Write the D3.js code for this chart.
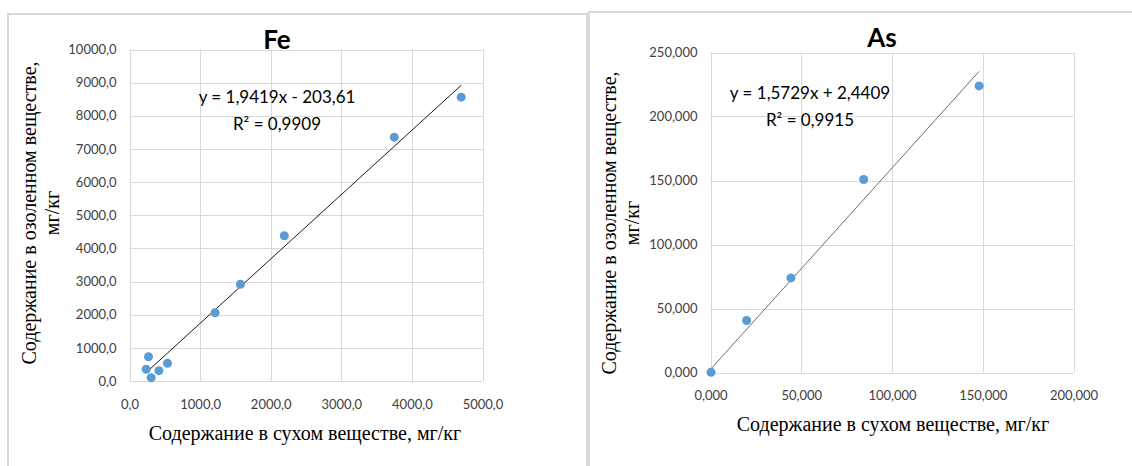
<!DOCTYPE html>
<html>
<head>
<meta charset="utf-8">
<script src="https://cdn.jsdelivr.net/npm/d3@7"></script>
<style>
  body { margin: 0; background: #fff; }
  svg { display: block; }
  .serif { font-family: "Liberation Serif", "Times New Roman", "DejaVu Serif", serif; }
</style>
</head>
<body>
<svg></svg>
<script>
// data

let feDry = [236, 269, 307, 416, 538, 1213, 1571, 2193, 3750, 4698];
let feAsh = [353, 733, 100, 311, 533, 2060, 2915, 4381, 7356, 8562];
let feTrend = [1.9419, -203.61];
let feXTicks = [0, 1000, 2000, 3000, 4000, 5000];
let feYTicks = [0, 1000, 2000, 3000, 4000, 5000, 6000, 7000, 8000, 9000, 10000];

let asDry = [0.3, 19.9, 44.3, 84.4, 148.0];
let asAsh = [0.2, 40.6, 73.9, 150.8, 223.9];
let asTrend = [1.5729, 2.4409];
let asXTicks = [0, 50, 100, 150, 200];
let asYTicks = [0, 50, 100, 150, 200, 250];

let svgWidth = 1132;
let svgHeight = 466;

let svg = d3.select('svg')
	.attr("width", svgWidth)
	.attr("height", svgHeight);

let comma = function(digits) {
	return function(d) { return d.toFixed(digits).replace(".", ","); };
};

function drawChart(opt) {
	let g = svg.append("g");

	// panel border
	g.append("rect")
		.attr("x", opt.panel[0]).attr("y", opt.panel[1])
		.attr("width", opt.panel[2]).attr("height", opt.panel[3])
		.attr("fill", "#fff")
		.attr("stroke", "#d9d9d9")
		.attr("stroke-width", 2);

	let x = d3.scaleLinear().domain(opt.xDomain).range([opt.plot[0], opt.plot[1]]);
	let y = d3.scaleLinear().domain(opt.yDomain).range([opt.plot[3], opt.plot[2]]);

	// gridlines
	g.selectAll(".hgrid").data(opt.yTicks).enter().append("line")
		.attr("x1", opt.plot[0]).attr("x2", opt.plot[1])
		.attr("y1", d => Math.round(y(d)) + 0.5).attr("y2", d => Math.round(y(d)) + 0.5)
		.attr("stroke", "#d9d9d9");
	g.selectAll(".vgrid").data(opt.xTicks).enter().append("line")
		.attr("y1", opt.plot[2]).attr("y2", opt.plot[3])
		.attr("x1", d => Math.round(x(d)) + 0.5).attr("x2", d => Math.round(x(d)) + 0.5)
		.attr("stroke", "#d9d9d9");

	// axes (only labels, no domain)
	let yAxis = g.append("g")
		.attr("transform", "translate(" + opt.plot[0] + ",0)")
		.call(d3.axisLeft(y).tickValues(opt.yTicks).tickFormat(comma(opt.digits)).tickSize(0).tickPadding(opt.yPad));
	let xAxis = g.append("g")
		.attr("transform", "translate(0," + opt.plot[3] + ")")
		.call(d3.axisBottom(x).tickValues(opt.xTicks).tickFormat(comma(opt.digits)).tickSize(0).tickPadding(opt.xPad));
	[xAxis, yAxis].forEach(function(a) {
		a.select(".domain").remove();
		a.selectAll("text")
			.attr("font-family", "Lato, sans-serif")
			.attr("font-size", 13)
			.attr("fill", "#404040");
	});

	// trend line
	let xs = d3.extent(opt.dry);
	g.append("line")
		.attr("x1", x(xs[0])).attr("y1", y(opt.trend[0] * xs[0] + opt.trend[1]))
		.attr("x2", x(xs[1])).attr("y2", y(opt.trend[0] * xs[1] + opt.trend[1]))
		.attr("stroke", opt.lineColor)
		.attr("stroke-width", 1);

	// points
	g.selectAll("circle").data(opt.dry).enter().append("circle")
		.attr("cx", d => x(d))
		.attr("cy", (d, i) => y(opt.ash[i]))
		.attr("r", 4.5)
		.attr("fill", "#5b9bd5");

	// title
	g.append("text")
		.attr("x", opt.titlePos[0]).attr("y", opt.titlePos[1])
		.attr("text-anchor", "middle")
		.attr("font-family", "Lato, sans-serif")
		.attr("font-weight", "bold")
		.attr("font-size", 26)
		.attr("fill", "#000")
		.text(opt.title);

	// equation
	let sign = opt.trend[1] < 0 ? " - " : " + ";
	let eq = g.append("text")
		.attr("text-anchor", "middle")
		.attr("font-family", "Lato, sans-serif")
		.attr("font-size", 17)
		.attr("fill", "#000");
	eq.append("tspan")
		.attr("x", opt.eqPos[0]).attr("y", opt.eqPos[1])
		.text("y = " + comma(4)(opt.trend[0]) + "x" + sign + String(Math.abs(opt.trend[1])).replace(".", ","));
	eq.append("tspan")
		.attr("x", opt.eqPos[0]).attr("y", opt.eqPos[1] + 27)
		.text("R² = " + opt.r2);

	// axis titles
	g.append("text")
		.attr("class", "serif")
		.attr("x", opt.xTitle[0]).attr("y", opt.xTitle[1])
		.attr("text-anchor", "middle")
		.attr("font-size", 20)
		.attr("fill", "#000")
		.text("Содержание в сухом веществе, мг/кг");

	let yt = g.append("text")
		.attr("class", "serif")
		.attr("transform", "translate(" + opt.yTitle[0] + "," + opt.yTitle[1] + ") rotate(-90)")
		.attr("text-anchor", "middle")
		.attr("font-size", 20)
		.attr("fill", "#000");
	yt.append("tspan").attr("x", 0).attr("y", 0).text("Содержание в озоленном веществе,");
	yt.append("tspan").attr("x", 0).attr("y", 23).text("мг/кг");
}

drawChart({
	panel: [8, 14, 579, 470],
	plot: [129.5, 482.5, 49.5, 381],
	xDomain: [0, 5000], yDomain: [0, 10000],
	xTicks: feXTicks, yTicks: feYTicks, digits: 1,
	yPad: 13, xPad: 19,
	dry: feDry, ash: feAsh, trend: feTrend, r2: "0,9909",
	lineColor: "#1a1a1a",
	title: "Fe", titlePos: [277, 49],
	eqPos: [277, 103],
	xTitle: [305, 440],
	yTitle: [36, 213]
});

drawChart({
	panel: [589, 12, 560, 470],
	plot: [710.5, 1073.5, 52.5, 372.5],
	xDomain: [0, 200], yDomain: [0, 250],
	xTicks: asXTicks, yTicks: asYTicks, digits: 3,
	yPad: 13, xPad: 18,
	dry: asDry, ash: asAsh, trend: asTrend, r2: "0,9915",
	lineColor: "#6e6e6e",
	title: "As", titlePos: [882, 47],
	eqPos: [810, 99],
	xTitle: [893, 431],
	yTitle: [616, 223]
});
</script>
</body>
</html>
